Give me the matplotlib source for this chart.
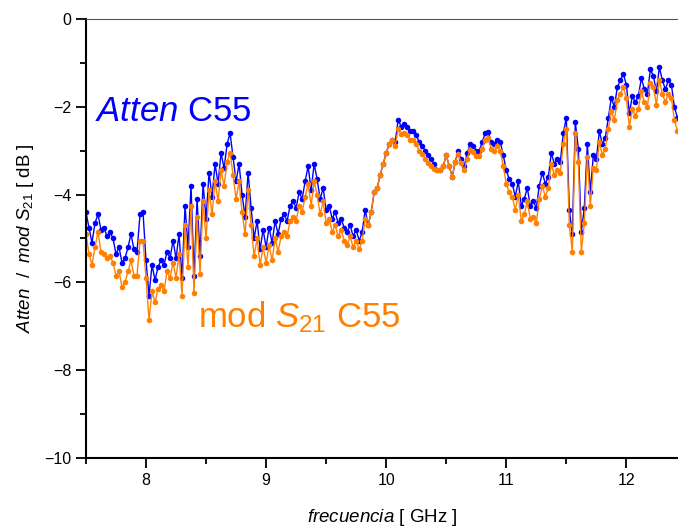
import numpy as np
import matplotlib.pyplot as plt
from matplotlib.ticker import MultipleLocator

plt.rcParams['font.family'] = ['Liberation Sans', 'DejaVu Sans']
plt.rcParams['mathtext.fontset'] = 'custom'
plt.rcParams['mathtext.rm'] = 'Liberation Sans'
plt.rcParams['mathtext.it'] = 'Liberation Sans:italic'

# frequency sweep, 0.025 GHz step
f_start = 7.5
f_step = 0.025

atten = [
    -4.40, -4.75, -5.10, -4.65, -4.45, -4.80, -4.75, -4.95, -4.85, -5.00,
    -5.35, -5.20, -5.55, -5.45, -5.20, -4.90, -5.25, -5.30, -4.45, -4.40,
    -5.50, -6.30, -5.60, -5.95, -5.65, -5.50, -5.60, -5.30, -5.45, -5.05,
    -5.45, -4.90, -5.90, -4.25, -5.20, -3.80, -5.85, -4.10, -5.40, -3.75,
    -4.55, -3.50, -4.05, -3.30, -3.75, -3.05, -3.40, -2.85, -2.60, -3.15,
    -3.70, -3.30, -4.00, -4.50, -3.50, -4.30, -5.00, -4.60, -5.25, -4.80,
    -5.20, -4.75, -5.10, -4.60, -4.90, -4.55, -4.45, -4.60, -4.25, -4.15,
    -4.30, -3.95, -4.10, -3.70, -3.35, -3.90, -3.30, -3.65, -4.10, -3.85,
    -4.35, -4.25, -4.55, -4.40, -4.65, -4.55, -4.75, -4.85, -4.70, -4.95,
    -4.80, -5.05, -4.85, -4.35, -4.70, -4.40, -3.95, -3.85, -3.55, -3.30,
    -3.05, -2.85, -2.75, -2.80, -2.30, -2.45, -2.40, -2.45, -2.55, -2.55,
    -2.65, -2.80, -2.90, -3.00, -3.10, -3.20, -3.30, -3.45, -3.45, -3.35,
    -3.10, -3.35, -3.60, -3.25, -3.00, -3.20, -3.35, -3.05, -2.85, -2.90,
    -3.00, -3.00, -2.80, -2.60, -2.58, -2.80, -2.85, -2.75, -2.80, -3.10,
    -3.45, -3.65, -3.75, -4.05, -3.70, -4.25, -4.10, -3.85, -4.25, -4.15,
    -4.30, -3.80, -3.50, -3.75, -3.60, -3.05, -3.30, -3.20, -3.25, -2.60,
    -2.25, -4.35, -4.90, -2.35, -2.95, -4.85, -4.30, -2.85, -3.95, -3.10,
    -3.20, -2.55, -2.85, -2.70, -2.25, -1.80, -2.00, -1.55, -1.40, -1.25,
    -1.50, -2.15, -1.75, -1.90, -1.75, -1.35, -1.60, -1.70, -1.15, -1.30,
    -1.65, -1.10, -1.40, -1.60, -1.40, -1.50, -2.00, -2.25,
]

mod_s21 = [
    -4.90, -5.35, -5.60, -5.20, -4.85, -5.30, -5.35, -5.45, -5.40, -5.55,
    -5.85, -5.75, -6.10, -6.00, -5.75, -5.50, -5.85, -5.85, -5.05, -5.05,
    -5.90, -6.85, -6.20, -6.45, -6.15, -6.05, -6.20, -5.75, -5.90, -5.55,
    -5.90, -5.35, -6.30, -4.70, -5.65, -4.25, -6.25, -4.50, -5.80, -4.15,
    -5.00, -3.90, -4.45, -3.70, -4.15, -3.45, -3.80, -3.25, -3.05, -3.55,
    -4.10, -3.70, -4.40, -4.90, -3.90, -4.70, -5.40, -5.00, -5.60, -5.20,
    -5.55, -5.15, -5.50, -5.00, -5.30, -4.95, -4.85, -4.95, -4.60, -4.50,
    -4.60, -4.25, -4.40, -4.05, -3.75, -4.25, -3.70, -4.00, -4.45, -4.15,
    -4.65, -4.55, -4.85, -4.70, -4.95, -4.80, -5.05, -5.15, -4.95, -5.20,
    -5.05, -5.25, -5.05, -4.55, -4.70, -4.40, -3.95, -3.85, -3.55, -3.30,
    -3.05, -2.85, -2.75, -2.90, -2.50, -2.62, -2.60, -2.65, -2.75, -2.75,
    -2.85, -3.00, -3.08, -3.18, -3.28, -3.35, -3.42, -3.45, -3.45, -3.35,
    -3.10, -3.35, -3.60, -3.25, -3.08, -3.28, -3.45, -3.18, -2.98, -3.03,
    -3.12, -3.12, -2.95, -2.75, -2.72, -2.95, -3.00, -2.90, -3.00, -3.35,
    -3.75, -3.95, -4.05, -4.35, -4.00, -4.60, -4.45, -4.15, -4.55, -4.50,
    -4.65, -4.10, -3.80, -4.05, -3.85, -3.30, -3.55, -3.45, -3.50, -2.85,
    -2.50, -4.70, -5.30, -2.60, -3.25, -5.30, -4.65, -3.15, -4.25, -3.40,
    -3.45, -2.80, -3.10, -2.95, -2.50, -2.10, -2.30, -1.85, -1.70, -1.55,
    -1.80, -2.45, -2.05, -2.20, -2.05, -1.65, -1.90, -2.00, -1.45, -1.55,
    -1.95, -1.40, -1.70, -1.90, -1.70, -1.80, -2.30, -2.55,
]

freq = f_start + f_step * np.arange(len(atten))

fig = plt.figure(figsize=(6.78, 5.29), dpi=100)
ax = fig.add_axes([0.1268, 0.1342, 0.8732, 0.8299])

ax.plot(freq, atten, "-o", color="#0000FF", lw=1.0, ms=4.0, mew=0)
ax.plot(freq, mod_s21, "-o", color="#FF8000", lw=1.0, ms=4.0, mew=0)

ax.set_xlim(7.5, 12.43)
ax.set_ylim(-10, 0)

ax.xaxis.set_major_locator(MultipleLocator(1))
ax.xaxis.set_minor_locator(MultipleLocator(0.5))
ax.yaxis.set_major_locator(MultipleLocator(2))
ax.yaxis.set_minor_locator(MultipleLocator(1))
ax.tick_params(which="major", direction="out", length=7, width=1.3, labelsize=11.5)
ax.tick_params(which="minor", direction="out", length=4, width=1.3)

ax.spines["left"].set_linewidth(1.5)
ax.spines["bottom"].set_linewidth(1.5)
ax.spines["top"].set_linewidth(0.8)
ax.spines["top"].set_color("#555555")
ax.spines["right"].set_visible(False)

ax.set_xlabel(r"$\mathit{frecuencia}$ [ GHz ]", fontsize=13.5, labelpad=14)
ax.set_ylabel(r"$\mathit{Atten}$  /  $\mathit{mod}$ $\mathit{S}_{21}$ [ dB ]", fontsize=13.5, labelpad=6)

ax.text(7.575, -2.32, r"$\mathit{Atten}$ C55", color="#0000FF", fontsize=25)
ax.text(8.43, -7.02, r"mod $\mathit{S}_{21}$ C55", color="#FF8000", fontsize=25)

plt.savefig("out.png", dpi=100)
